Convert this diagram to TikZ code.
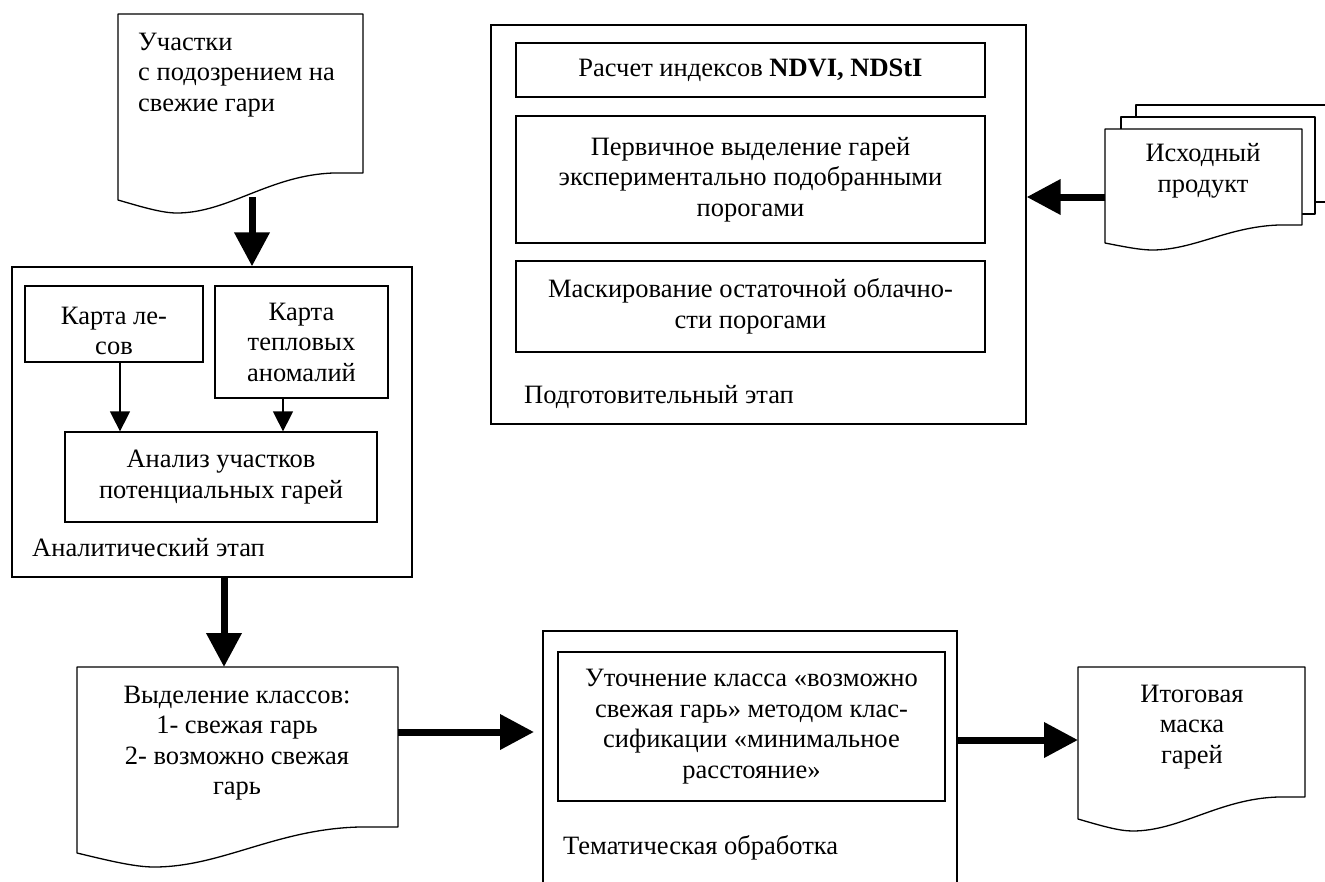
\documentclass[tikz,border=0pt]{standalone}
\usepackage{fontspec}
\setmainfont{Liberation Serif}
\usetikzlibrary{arrows.meta}
\newcommand\docshape[6]{%
  \pgfmathsetmacro\docW{#3-#1}%
  \draw[docline] (#1,#2) -- (#3,#2) -- (#3,#5) -- ({#1+0.88*\docW},#5)
    .. controls ({#1+0.62*\docW},{#5+2}) and ({#1+0.45*\docW},{#4+#6}) .. ({#1+0.24*\docW},{#4+#6})
    .. controls ({#1+0.18*\docW},{#4+#6}) and ({#1+0.1*\docW},{#4+0.55*#6}) .. (#1,#4) -- cycle;}
\begin{document}
\begin{tikzpicture}[x=1pt,y=-1pt,
  font=\fontsize{26.5}{30.5}\selectfont,
  docline/.style={draw, line width=1.3pt, fill=white, line join=round},
  boxnode/.style={draw, line width=1.3pt, align=center, inner sep=0pt, fill=white},
  txt/.style={align=center, inner sep=0pt},
  lbl/.style={anchor=west, inner sep=0pt},
  bigarrow/.style={line width=7pt, -{Triangle[length=34pt,width=34pt]}},
  thinarrow/.style={line width=1.5pt, -{Triangle[length=20pt,width=20pt]}}]
\useasboundingbox (0,0) rectangle (1325,881);
\clip (0,0) rectangle (1325,881);

% --- top-left document
\docshape{118}{14}{363}{200}{173}{13}
\node[txt, align=left, anchor=west] (susp) at (138,75) {Участки\\с подозрением на\\свежие гари};
\coordinate (suspout) at (252,197);

% --- analytic stage
\node[boxnode, minimum width=400pt, minimum height=310pt] (anal) at (212,422) {};
\node[boxnode, minimum width=178pt, minimum height=76pt] (les) at (114,324) {};
\node[txt] (lestxt) at (114,331) {Карта ле-\\сов};
\node[boxnode, minimum width=173pt, minimum height=112pt] (heat) at (301.5,342) {Карта\\тепловых\\аномалий};
\node[boxnode, minimum width=312pt, minimum height=90pt] (area) at (221,477) {Анализ участков\\потенциальных гарей};
\node[lbl] (anallbl) at (32,548) {Аналитический этап};

% --- preparatory stage
\node[boxnode, minimum width=535pt, minimum height=399pt] (prep) at (758.5,224.5) {};
\node[boxnode, minimum width=469pt, minimum height=54pt] (calc) at (750.5,70) {Расчет индексов \textbf{NDVI, NDStI}};
\node[boxnode, minimum width=469pt, minimum height=127pt] (prim) at (750.5,179.5) {Первичное выделение гарей\\экспериментально подобранными\\порогами};
\node[boxnode, minimum width=469pt, minimum height=91pt] (mask) at (750.5,306.5) {Маскирование остаточной облачно-\\сти порогами};
\node[lbl] (preplbl) at (524,397) {Подготовительный этап};

% --- source product (multi-document)
\draw[docline] (1136,105) rectangle (1345,202);
\draw[docline] (1121,117) rectangle (1315,214);
\docshape{1105}{129}{1302}{243}{225}{7}
\node[txt] (src) at (1203,171) {Исходный\\продукт};
\coordinate (srcin) at (1105,197);

% --- classes document
\docshape{77}{667}{398}{853}{827}{14}
\node[txt] (cls) at (237,743) {Выделение классов:\\1- свежая гарь\\2- возможно свежая\\гарь};
\coordinate (clstop) at (224,667);
\coordinate (clsout) at (398,732);

% --- thematic processing
\node[boxnode, minimum width=414pt, minimum height=280pt] (them) at (750,771) {};
\node[boxnode, minimum width=387pt, minimum height=149pt] (refine) at (751.5,726.5) {Уточнение класса «возможно\\свежая гарь» методом клас-\\сификации «минимальное\\расстояние»};
\node[lbl] (themlbl) at (563,848) {Тематическая обработка};
\coordinate (themin) at (534,732);
\coordinate (themout) at (957,740);

% --- final mask document
\docshape{1078}{667}{1305}{819}{797}{12}
\node[txt] (final) at (1192,727) {Итоговая\\маска\\гарей};
\coordinate (finalin) at (1078,740);

% --- connectors
\draw[bigarrow] (suspout) -- (suspout |- anal.north);
\draw[thinarrow] ([xshift=6pt]les.south) -- ([xshift=6pt]les.south |- area.north);
\draw[thinarrow] ([xshift=-18.5pt]heat.south) -- ([xshift=-18.5pt]heat.south |- area.north);
\draw[bigarrow] (anal.south -| clstop) -- (clstop);
\draw[bigarrow] (clsout) -- (themin);
\draw[bigarrow] (themout) -- (finalin);
\draw[bigarrow] (srcin) -- (srcin -| prep.east);
\end{tikzpicture}
\end{document}
